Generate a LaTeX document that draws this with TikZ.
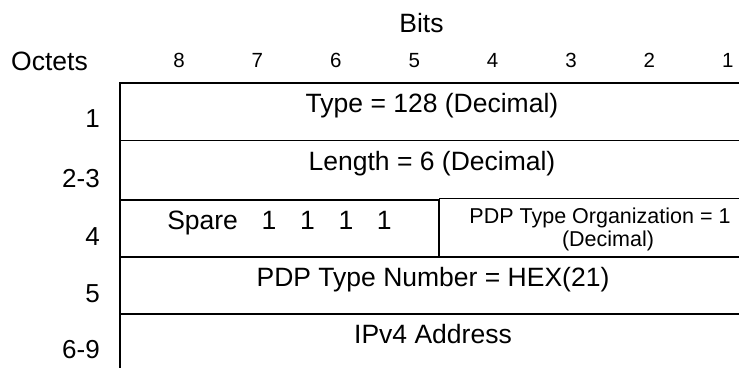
\documentclass[tikz,border=0pt]{standalone}
\usepackage{fontspec}
\setmainfont{Liberation Sans}
\begin{document}
\begin{tikzpicture}[x=1bp,y=-1bp,
  rule/.style={line width=1.8bp},
  txt/.style={inner sep=0pt, anchor=base, font=\fontsize{26.5bp}{30bp}\selectfont},
  bitno/.style={inner sep=0pt, anchor=base, font=\fontsize{20.5bp}{23bp}\selectfont},
  octno/.style={inner sep=0pt, anchor=base east, font=\fontsize{26bp}{30bp}\selectfont},
  small/.style={inner sep=0pt, anchor=base, font=\fontsize{21.5bp}{24bp}\selectfont}]
\useasboundingbox (0,0) rectangle (739,367);

% header
\node[txt] (bits) at (421.5,32) {Bits};
\node[txt, anchor=base west] (octets) at (11,70) {Octets};
\foreach \b [count=\i from 0] in {8,7,6,5,4,3,2,1}
  \node[bitno] (bit\b) at ({179+\i*78.4},67) {\b};

% frame coordinates
\coordinate (tl) at (120,83);
\coordinate (tr) at (740,83);
\coordinate (bl) at (120,368);
\coordinate (r1l) at (120,140.5);  \coordinate (r1r) at (740,140.5);
\coordinate (r2l) at (120,200);  \coordinate (r2m) at (439,200);
\coordinate (r2d) at (439,198.5);  \coordinate (r2r) at (740,198.5);
\coordinate (r3l) at (120,257);  \coordinate (r3m) at (439,257);  \coordinate (r3r) at (740,257);
\coordinate (r4l) at (120,314);  \coordinate (r4r) at (740,314);

\draw[rule] (bl) -- (tl) -- (tr);
\draw[rule] (r1l) -- (r1r);
\draw[rule] (r2l) -- (r2m);
\draw[rule] (r2d) -- (r2r);
\draw[rule] (r2d) -- (r3m);
\draw[rule] (r3l) -- (r3r);
\draw[rule] (r4l) -- (r4r);

% octet labels
\node[octno] (o1) at (100,127) {1};
\node[octno] (o2) at (100,187) {2-3};
\node[octno] (o4) at (100,245) {4};
\node[octno] (o5) at (100,302) {5};
\node[octno] (o6) at (100,358) {6-9};

% field texts
\node[txt] (type) at (432,112) {Type = 128 (Decimal)};
\node[txt] (len) at (432,170) {Length = 6 (Decimal)};
\node[txt] (spare) at (279.5,229) {Spare\hspace{23.7bp}1\hspace{23.7bp}1\hspace{23.7bp}1\hspace{23.7bp}1};
\node[small] (org1) at (600,223) {PDP Type Organization = 1};
\node[small] (org2) at (608,246) {(Decimal)};
\node[txt] (num) at (433,286) {PDP Type Number = HEX(21)};
\node[txt] (ip) at (433,343) {IPv4 Address};
\end{tikzpicture}
\end{document}
